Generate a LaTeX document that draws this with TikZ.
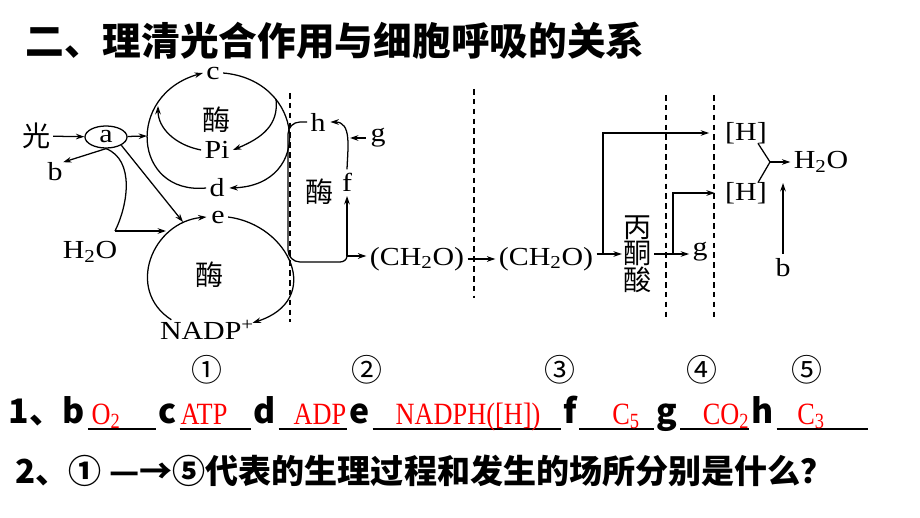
\documentclass[tikz,border=0pt]{standalone}
\usepackage{fontspec}
\setmainfont{Liberation Serif}
\newfontfamily\cjk{Noto Sans CJK SC}
\newfontfamily\dgm[FakeStretch=1.15]{Liberation Serif}
\newfontfamily\ans[FakeStretch=0.85]{Liberation Serif}
\usetikzlibrary{arrows.meta, positioning, shapes.geometric, calc}

\begin{document}
\begin{tikzpicture}[x=0.025cm, y=-0.025cm, line width=0.9pt, >={Stealth[length=6pt, width=4pt]},
        diag_label/.style={font=\fontsize{18.5}{19}\selectfont\dgm, inner sep=0pt},
        zh_label/.style={font=\fontsize{20}{19}\selectfont\cjk, inner sep=1pt, align=center},
        stage_num/.style={font=\fontsize{22}{22}\selectfont\cjk, inner sep=0pt},
        blank_key/.style={font=\fontsize{24}{26}\selectfont\cjk\bfseries, anchor=base, inner sep=0pt},
        answer/.style={font=\fontsize{22}{24}\selectfont\ans, text=red, anchor=base, inner sep=0pt},
        blank_line/.style={line width=1.4pt},
        divider/.style={dash pattern=on 4pt off 3pt, line width=0.8pt}]

    \useasboundingbox (0,0) rectangle (920,518);

    % Title
    \node[anchor=west, inner sep=0pt, font=\fontsize{27.5}{30}\selectfont\cjk\bfseries] (title) at (25,41) {二、理清光合作用与细胞呼吸的关系};

    % Light reactions
    \node[zh_label] (guang) at (37,136) {光};
    \node[diag_label, draw, ellipse, inner sep=0pt, minimum width=1.05cm, minimum height=0.55cm] (a) at (106,137) {a};
    \node[diag_label] (b_left) at (55,172) {b};
    \node[diag_label] (c) at (213,73) {c};
    \node[zh_label] (enz_up) at (217,120) {酶};
    \node[diag_label] (pi) at (217,150) {Pi};
    \node[diag_label] (d) at (217,188) {d};
    \node[diag_label] (e) at (218,217) {e};
    \node[diag_label] (h2o_in) at (90,252) {H\textsubscript{2}O};
    \node[zh_label] (enz_low) at (210,275) {酶};
    \node[diag_label] (nadp) at (207,330) {NADP\textsuperscript{+}};

    \coordinate (arc_a) at (147,136);
    \coordinate (arc_c) at (276,99);
    \coordinate (e_in) at (183,222);
    \coordinate (h2o_jn) at (115,231);
    \coordinate (h2o_end) at (166,231);

    \draw[->] (guang) -- (a);
    \draw[->] (a) -- (arc_a);
    \draw[->] (a.south) -- (b_left.north east);
    \draw[->] (a.south east) -- (e_in);
    \draw (a.south) .. controls (135,160) and (128,205) .. (h2o_jn);
    \draw[->] (h2o_jn) -- (h2o_end);

    % ATP cycle
    \draw[->] ([xshift=-2pt]d.west) .. controls (133,195) and (125,95) .. ([xshift=-2pt]c.west);
    \draw[->] ([xshift=2pt]c.east) .. controls (305,80) and (314,185) .. ([xshift=3pt]d.east);
    \draw[->] (arc_c) .. controls (279,125) and (262,138) .. ([xshift=2pt]pi.east);
    \draw[->] ([xshift=-2pt]pi.west) .. controls (175,145) and (158,128) .. (158,106);

    % NADPH cycle
    \draw[->] ($(nadp.north west)+(12,0)$) .. controls (125,290) and (152,222) .. ([xshift=-3pt]e.west);
    \draw[->] ([xshift=2pt]e.east) .. controls (290,225) and (324,300) .. ($(nadp.north east)+(-2,3)$);

    % Dark reactions
    \node[diag_label] (h) at (318,122) {h};
    \node[diag_label] (g_dark) at (378,138) {g};
    \node[diag_label] (f) at (347,182) {f};
    \node[zh_label] (enz_dark) at (320,192) {酶};
    \node[diag_label] (ch2o_a) at (417,259) {(CH\textsubscript{2}O)};
    \node[diag_label] (ch2o_b) at (546,259) {(CH\textsubscript{2}O)};

    \coordinate (hf_curve) at (350,138);
    \coordinate (f_jn) at (347,256);

    \draw ([xshift=-2pt]h.west) -- (300,122) to[out=180, in=90] (288,134) -- (288,250)
        to[out=-90, in=180] (300,262) -- (340,262) to[out=0, in=-90] (f_jn);
    \draw[->] (f_jn) -- ([yshift=-3pt]f.south);
    \draw[->] (f_jn) -- ([xshift=-2pt]ch2o_a.west |- f_jn);
    \draw[->] ([yshift=2pt]f.north) to[out=88, in=0, looseness=1.1] ([xshift=3pt]h.east);
    \draw[->] ([xshift=-3pt]g_dark.west) -- (hf_curve);
    \draw[->] ([xshift=2pt]ch2o_a.east) -- ([xshift=-2pt]ch2o_b.west);

    % Respiration
    \node[zh_label] (pyr) at (638,254) {丙\\酮\\酸};
    \node[diag_label] (g_resp) at (700,252) {g};
    \node[diag_label] (hh_top) at (746,133) {[H]};
    \node[diag_label] (hh_bot) at (746,193) {[H]};
    \node[diag_label] (h2o_out) at (821,162) {H\textsubscript{2}O};
    \node[diag_label] (b_right) at (783,268) {b};

    \coordinate (br_ch2o) at (603,254);
    \coordinate (br_pyr) at (673,254);
    \coordinate (h_jn) at (770,162);

    \draw ([xshift=2pt]ch2o_b.east |- br_ch2o) -- (br_ch2o);
    \draw[->] (br_ch2o) -- (pyr.west |- br_ch2o);
    \draw[->, shorten >=11pt] (br_ch2o) |- (hh_top.west);
    \draw[->] (pyr.east |- br_pyr) -- ([xshift=-2pt]g_resp.west |- br_pyr);
    \draw[->, shorten >=7pt] (br_pyr) |- (hh_bot.west);
    \draw ($(hh_top.south)+(12,-1)$) -- (h_jn);
    \draw ($(hh_bot.north)+(12,1)$) -- (h_jn);
    \draw[->] (h_jn) -- ([xshift=-2pt]h2o_out.west);
    \draw[->] ([yshift=3pt]b_right.north) -- (783,183);

    % Dividers between stages
    \draw[divider] (290,93) -- (290,322);
    \draw[divider] (474,89) -- (474,298);
    \draw[divider] (666,95) -- (666,318);
    \draw[divider] (714,95) -- (714,318);

    % Stage numbers
    \node[stage_num] (st1) at (207,370) {①};
    \node[stage_num] (st2) at (367,370) {②};
    \node[stage_num] (st3) at (560,370) {③};
    \node[stage_num] (st4) at (702,370) {④};
    \node[stage_num] (st5) at (807,370) {⑤};

    % Question 1
    \node[blank_key, anchor=base west] (key_b) at (8,423) {1、b};
    \node[blank_key] (key_c) at (168,423) {c};
    \node[blank_key] (key_d) at (265,423) {d};
    \node[blank_key] (key_e) at (360,423) {e};
    \node[blank_key] (key_f) at (570,423) {f};
    \node[blank_key] (key_g) at (667,423) {g};
    \node[blank_key] (key_h) at (763,423) {h};
    \coordinate (line_end) at (868,429);

    \draw[blank_line] ($(key_b.base east)+(2,6)$) -- ($(key_c.base west)+(-2,6)$);
    \draw[blank_line] ($(key_c.base east)+(2,6)$) -- ($(key_d.base west)+(-2,6)$);
    \draw[blank_line] ($(key_d.base east)+(2,6)$) -- ($(key_e.base west)+(-2,6)$);
    \draw[blank_line] ($(key_e.base east)+(2,6)$) -- ($(key_f.base west)+(-2,6)$);
    \draw[blank_line] ($(key_f.base east)+(2,6)$) -- ($(key_g.base west)+(-2,6)$);
    \draw[blank_line] ($(key_g.base east)+(2,6)$) -- ($(key_h.base west)+(-2,6)$);
    \draw[blank_line] ($(key_h.base east)+(2,6)$) -- (line_end);

    \node[answer] (ans_b) at (106,424) {O\textsubscript{2}};
    \node[answer] (ans_c) at (204,424) {ATP};
    \node[answer] (ans_d) at (320,424) {ADP};
    \node[answer] (ans_e) at (468,424) {NADPH([H])};
    \node[answer] (ans_f) at (626,424) {C\textsubscript{5}};
    \node[answer] (ans_g) at (726,424) {CO\textsubscript{2}};
    \node[answer] (ans_h) at (811,424) {C\textsubscript{3}};

    % Question 2
    \node[anchor=west, inner sep=0pt, font=\fontsize{23.5}{26}\selectfont\cjk\bfseries] (q2) at (15,471) {2、① —→⑤代表的生理过程和发生的场所分别是什么？};
\end{tikzpicture}
\end{document}
